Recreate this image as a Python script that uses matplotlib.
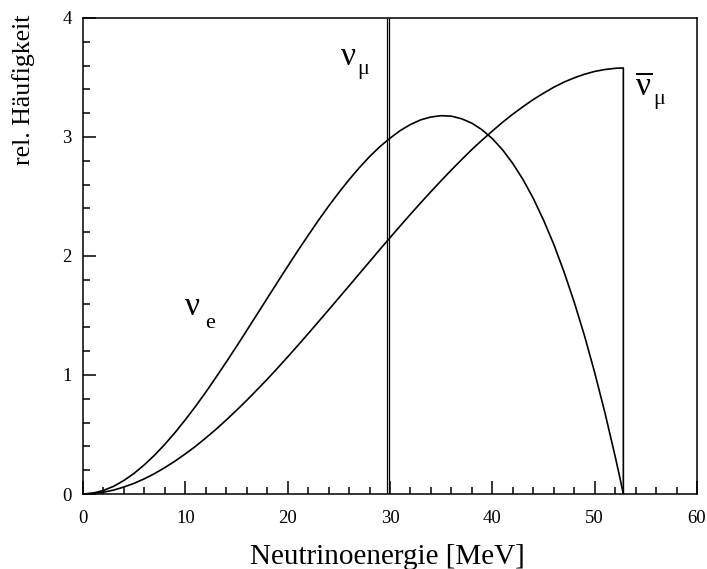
import matplotlib
matplotlib.use("Agg")
import matplotlib.pyplot as plt
from matplotlib.ticker import MultipleLocator

plt.rcParams["font.family"] = ["Liberation Serif", "DejaVu Serif"]
plt.rcParams["mathtext.fontset"] = "custom"
plt.rcParams["mathtext.rm"] = "Liberation Serif"

# energies [MeV] and spectra
E = [0, 1, 2, 3, 4, 5, 6, 7, 8, 9, 10, 11, 12, 13, 14, 15, 16, 17, 18, 19,
     20, 21, 22, 23, 24, 25, 26, 27, 28, 29, 30, 31, 32, 33, 34, 35, 36, 37,
     38, 39, 40, 41, 42, 43, 44, 45, 46, 47, 48, 49, 50, 51, 52, 52.4, 52.8]
NU_E = [0, 0.008, 0.030, 0.065, 0.114, 0.174, 0.246, 0.327, 0.418, 0.517,
        0.624, 0.737, 0.856, 0.981, 1.109, 1.240, 1.374, 1.509, 1.644, 1.779,
        1.913, 2.045, 2.173, 2.299, 2.419, 2.533, 2.641, 2.742, 2.835, 2.918,
        2.990, 3.054, 3.105, 3.144, 3.168, 3.179, 3.175, 3.153, 3.116, 3.060,
        2.986, 2.892, 2.777, 2.642, 2.484, 2.302, 2.098, 1.867, 1.612, 1.331,
        1.020, 0.683, 0.316, 0.161, 0]
NU_MUBAR = [0, 0.004, 0.015, 0.033, 0.059, 0.090, 0.128, 0.172, 0.222,
            0.277, 0.337, 0.401, 0.471, 0.544, 0.622, 0.703, 0.787, 0.875,
            0.964, 1.057, 1.152, 1.249, 1.347, 1.447, 1.547, 1.648, 1.749,
            1.851, 1.952, 2.054, 2.154, 2.253, 2.351, 2.447, 2.541, 2.633,
            2.723, 2.810, 2.895, 2.974, 3.050, 3.124, 3.192, 3.255, 3.315,
            3.368, 3.418, 3.461, 3.497, 3.527, 3.551, 3.567, 3.577, 3.579,
            3.58]
E_CUT = 52.8               # nu_mu-bar spectrum drops to zero here
NU_MU_E = [29.70, 29.88]   # monoenergetic nu_mu line (drawn double)
NU_MU_TOP = 4.0

fig = plt.figure(figsize=(7.07, 5.69), dpi=100)
ax = fig.add_axes([0.1174, 0.1318, 0.8685, 0.8366])

lw = 1.2
ax.plot(E, NU_E, color="black", lw=lw)
ax.plot(E + [E_CUT], NU_MUBAR + [0], color="black", lw=lw)
ax.vlines(NU_MU_E, 0, NU_MU_TOP, color="black", lw=0.9)

ax.set_xlim(0, 60)
ax.set_ylim(0, 4)
ax.xaxis.set_major_locator(MultipleLocator(10))
ax.xaxis.set_minor_locator(MultipleLocator(2))
ax.yaxis.set_major_locator(MultipleLocator(1))
ax.yaxis.set_minor_locator(MultipleLocator(0.2))
ax.tick_params(which="both", direction="in", top=False, right=False, width=1.1)
ax.tick_params(which="major", length=9.5)
ax.tick_params(which="minor", length=5)
ax.tick_params(axis="x", which="major", pad=11.5, labelsize=13.5)
ax.tick_params(axis="y", which="major", pad=8, labelsize=13.5)
for s in ax.spines.values():
    s.set_linewidth(1.1)

ax.set_xlabel("Neutrinoenergie [MeV]", fontsize=21)
ax.xaxis.set_label_coords(0.495, -0.105)
ax.set_ylabel("rel. Häufigkeit", fontsize=18.5)
ax.yaxis.set_label_coords(-0.078, 0.85)

# curve labels
big, small = 24, 16
ax.text(25.2, 3.605, "ν", fontsize=big, ha="left", va="baseline")
ax.text(26.8, 3.53, "μ", fontsize=small, ha="left", va="baseline")
ax.text(9.97, 1.504, "ν", fontsize=big, ha="left", va="baseline")
ax.text(11.92, 1.395, "e", fontsize=small, ha="left", va="baseline")
ax.text(53.94, 3.353, r"$\overline{\mathrm{ν}}$", fontsize=big,
        ha="left", va="baseline")
ax.text(55.7, 3.28, "μ", fontsize=small, ha="left", va="baseline")

fig.savefig("out.png", dpi=100)
